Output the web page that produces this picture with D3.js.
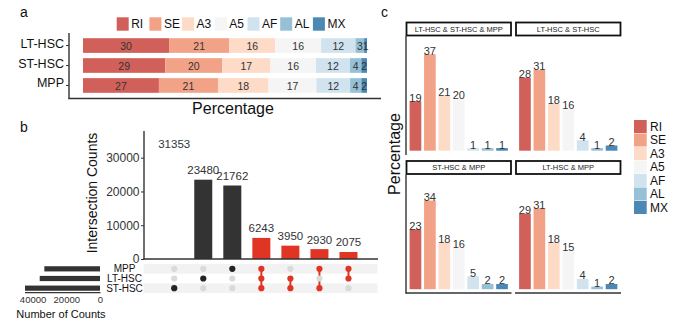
<!DOCTYPE html>
<html lang="en">
<head>
    <meta charset="UTF-8">
    <title>Repeat classes and peak overlaps</title>
    <script src="https://d3js.org/d3.v7.min.js"></script>
    <style>
        body { margin: 0; background: #fff; }
        svg { display: block; font-family: "Liberation Sans", Arial, sans-serif; }
        .domain { display: none; }
    </style>
</head>
<body>
    <svg id="chart" width="687" height="330"></svg>

    <script>
        // ---- data ----
        // panel a: repeat class percentages per cell type
        const cellTypes = ["LT-HSC", "ST-HSC", "MPP"];
        const repeatClasses = ["RI", "SE", "A3", "A5", "AF", "AL", "MX"];
        const pctLT = [30, 21, 16, 16, 12, 3, 1];
        const pctST = [29, 20, 17, 16, 12, 4, 2];
        const pctMPP = [27, 21, 18, 17, 12, 4, 2];

        // panel b: upset intersections
        const setRows = ["MPP", "LT-HSC", "ST-HSC"];
        const intersectionCounts = [31353, 23480, 21762, 6243, 3950, 2930, 2075];
        const intersectionSets = [
            ["ST-HSC"],
            ["LT-HSC"],
            ["MPP"],
            ["MPP", "LT-HSC", "ST-HSC"],
            ["LT-HSC", "ST-HSC"],
            ["MPP", "ST-HSC"],
            ["MPP", "LT-HSC"]
        ];
        const countTicks = [0, 10000, 20000, 30000];
        const setSizeTicks = [0, 20000, 40000];

        // panel c: repeat class percentages in shared peaks
        const facetTitles = ["LT-HSC & ST-HSC & MPP", "LT-HSC & ST-HSC", "ST-HSC & MPP", "LT-HSC & MPP"];
        const pctShared3 = [19, 37, 21, 20, 1, 1, 1];
        const pctLTST = [28, 31, 18, 16, 4, 1, 2];
        const pctSTMPP = [23, 34, 18, 16, 5, 2, 2];
        const pctLTMPP = [29, 31, 18, 15, 4, 1, 2];

        // colours (RdBu-like)
        const classColors = ["#D2605A", "#F2A387", "#FDDBC7", "#F5F5F5", "#D1E3EE", "#95C0D6", "#4C88B4"];
        const color = d3.scaleOrdinal().domain(repeatClasses).range(classColors);
        const textDark = "#333";
        const axisColor = "#333";
        const multiRed = "#E03524";

        const svg = d3.select("#chart");

        // panel letters
        [["a", 20, 17], ["b", 20, 132], ["c", 381, 17]].forEach(([t, x, y]) => {
            svg.append("text").attr("x", x).attr("y", y)
                .attr("font-size", "14px").attr("fill", "#111").text(t);
        });

        // ================= panel a =================
        const aRows = cellTypes.map((c, i) => {
            const vals = [pctLT, pctST, pctMPP][i];
            const row = { cell: c };
            repeatClasses.forEach((k, j) => row[k] = vals[j]);
            return row;
        });
        const aStack = d3.stack().keys(repeatClasses).offset(d3.stackOffsetExpand)(aRows);

        const aX = d3.scaleLinear().domain([0, 1]).range([83, 367]);
        const aY = d3.scaleBand().domain(cellTypes).range([33, 98])
            .paddingInner(0.265).paddingOuter(0.26);

        const aG = svg.append("g");
        const layers = aG.selectAll("g.layer")
            .data(aStack)
            .enter().append("g")
            .attr("fill", d => color(d.key));

        layers.selectAll("rect")
            .data(d => d)
            .enter().append("rect")
            .attr("x", d => aX(d[0]))
            .attr("y", d => aY(d.data.cell))
            .attr("width", d => aX(d[1]) - aX(d[0]))
            .attr("height", aY.bandwidth());

        // numbers inside the segments
        aStack.forEach(layer => {
            aG.selectAll(null)
                .data(layer)
                .enter().append("text")
                .attr("x", d => (aX(d[0]) + aX(d[1])) / 2)
                .attr("y", d => aY(d.data.cell) + aY.bandwidth() / 2 + 1)
                .attr("dy", "0.35em")
                .attr("text-anchor", "middle")
                .attr("font-size", "10.5px")
                .attr("fill", textDark)
                .text(d => d.data[layer.key]);
        });

        // y axis
        const aAxis = aG.append("g")
            .attr("transform", "translate(69,0)")
            .call(d3.axisLeft(aY).tickSize(3).tickPadding(2));
        aAxis.selectAll("text").attr("font-size", "12.5px").attr("fill", "#111")
            .attr("y", -2).style("font-family", "inherit");
        aAxis.selectAll("line").attr("stroke", axisColor);

        aG.append("line").attr("x1", 69).attr("x2", 69).attr("y1", 33).attr("y2", 98.5)
            .attr("stroke", axisColor).attr("stroke-width", 1.4);
        aG.append("line").attr("x1", 68.3).attr("x2", 381).attr("y1", 98.5).attr("y2", 98.5)
            .attr("stroke", axisColor).attr("stroke-width", 1.4);

        aG.append("text").attr("x", 233).attr("y", 114)
            .attr("text-anchor", "middle").attr("font-size", "16px").attr("fill", "#111")
            .text("Percentage");

        // horizontal legend
        const aLegend = aG.selectAll("g.leg")
            .data(repeatClasses)
            .enter().append("g")
            .attr("transform", (d, i) => `translate(${116.7 + i * 32.7}, 17.3)`);
        aLegend.append("rect").attr("width", 12).attr("height", 13.4).attr("fill", d => color(d));
        aLegend.append("text").attr("x", 14.5).attr("y", 6.7).attr("dy", "0.35em")
            .attr("font-size", "12px").attr("fill", "#111").text(d => d);

        // ================= panel b =================
        const bG = svg.append("g");
        const cols = d3.range(intersectionCounts.length);

        const bX = d3.scaleBand().domain(cols).range([159.7, 363])
            .paddingInner(0.38).paddingOuter(0.19);
        const bY = d3.scaleLinear().domain([0, 37900]).range([259, 131]);
        const rowY = d3.scaleBand().domain(setRows).range([264, 293]);

        // set sizes from the intersections
        const setSizes = setRows.map(s => d3.sum(intersectionSets.map((set, i) => set.includes(s) ? intersectionCounts[i] : 0)));
        const sizeX = d3.scaleLinear().domain([0, d3.max(setSizes)]).range([100, 25]);

        // intersection bars (the first one is blank in the figure)
        bG.selectAll("rect.ibar")
            .data(cols)
            .enter().append("rect")
            .attr("class", "ibar")
            .attr("x", i => bX(i))
            .attr("y", i => bY(intersectionCounts[i]))
            .attr("width", bX.bandwidth())
            .attr("height", i => bY(0) - bY(intersectionCounts[i]))
            .attr("fill", i => i === 0 ? "none" : (intersectionSets[i].length > 1 ? multiRed : "#333333"));

        bG.selectAll("text.ilab")
            .data(cols)
            .enter().append("text")
            .attr("class", "ilab")
            .attr("x", i => bX(i) + bX.bandwidth() / 2)
            .attr("y", i => bY(intersectionCounts[i]) - 5.5)
            .attr("text-anchor", "middle")
            .attr("font-size", "11.5px")
            .attr("fill", textDark)
            .text(i => intersectionCounts[i]);

        const bAxis = bG.append("g")
            .attr("transform", "translate(144,0)")
            .call(d3.axisLeft(bY).tickValues(countTicks).tickFormat(d3.format("d")).tickSize(3).tickPadding(1.5));
        bAxis.selectAll("text").attr("font-size", "12px").attr("fill", textDark).style("font-family", "inherit");
        bAxis.selectAll("line").attr("stroke", axisColor);

        bG.append("line").attr("x1", 144).attr("x2", 144).attr("y1", 131).attr("y2", 259.5)
            .attr("stroke", axisColor).attr("stroke-width", 1.4);
        bG.append("line").attr("x1", 143.3).attr("x2", 378).attr("y1", 259).attr("y2", 259)
            .attr("stroke", axisColor).attr("stroke-width", 1.4);

        bG.append("text")
            .attr("transform", "translate(97,193) rotate(-90)")
            .attr("text-anchor", "middle").attr("font-size", "14px").attr("fill", "#111")
            .text("Intersection Counts");

        // matrix stripes
        bG.selectAll("rect.stripe")
            .data(setRows.filter((d, i) => i % 2 === 0))
            .enter().append("rect")
            .attr("x", 143.5).attr("width", 234)
            .attr("y", d => rowY(d)).attr("height", rowY.bandwidth())
            .attr("fill", "#F2F2F2");

        // connecting lines
        cols.forEach(i => {
            const ys = intersectionSets[i].map(s => rowY(s) + rowY.bandwidth() / 2);
            if (ys.length > 1) {
                bG.append("line")
                    .attr("x1", bX(i) + bX.bandwidth() / 2).attr("x2", bX(i) + bX.bandwidth() / 2)
                    .attr("y1", d3.min(ys)).attr("y2", d3.max(ys))
                    .attr("stroke", multiRed).attr("stroke-width", 2);
            }
        });

        // dots
        const cells = [];
        cols.forEach(i => setRows.forEach(s => cells.push({ i, s, on: intersectionSets[i].includes(s) })));
        bG.selectAll("circle.dot")
            .data(cells)
            .enter().append("circle")
            .attr("cx", d => bX(d.i) + bX.bandwidth() / 2)
            .attr("cy", d => rowY(d.s) + rowY.bandwidth() / 2)
            .attr("r", 3.1)
            .attr("fill", d => !d.on ? "#DADADA" : (intersectionSets[d.i].length > 1 ? multiRed : "#222"));

        // set labels
        bG.selectAll("text.setlab")
            .data(setRows)
            .enter().append("text")
            .attr("x", 124.5)
            .attr("y", d => rowY(d) + rowY.bandwidth() / 2)
            .attr("dy", "0.35em")
            .attr("text-anchor", "middle")
            .attr("font-size", "10px").attr("fill", "#111")
            .text(d => d);

        // set size bars
        bG.selectAll("rect.sbar")
            .data(setRows)
            .enter().append("rect")
            .attr("x", (d, i) => sizeX(setSizes[i]))
            .attr("y", d => rowY(d) + rowY.bandwidth() / 2 - 2.6)
            .attr("width", (d, i) => sizeX(0) - sizeX(setSizes[i]))
            .attr("height", 5.2)
            .attr("fill", "#333333");

        const sAxis = bG.append("g")
            .attr("transform", "translate(0,292.7)")
            .call(d3.axisBottom(sizeX).tickValues(setSizeTicks).tickFormat(d3.format("d")).tickSize(0).tickPadding(3.5));
        sAxis.selectAll("text").attr("font-size", "9.5px").attr("fill", textDark).style("font-family", "inherit");
        bG.append("line").attr("x1", sizeX(d3.max(setSizes))).attr("x2", 100.5).attr("y1", 292.7).attr("y2", 292.7)
            .attr("stroke", axisColor).attr("stroke-width", 1.3);

        bG.append("text").attr("x", 61).attr("y", 318)
            .attr("text-anchor", "middle").attr("font-size", "11px").attr("fill", "#111")
            .text("Number of Counts");

        // ================= panel c =================
        const cG = svg.append("g");
        const facetValues = [pctShared3, pctLTST, pctSTMPP, pctLTMPP];
        const panelX = [406, 515.5];
        const panelTop = [36, 174.5];
        const panelW = 105.5;
        const panelH = 118.5;

        const cX = d3.scaleBand().domain(repeatClasses).range([0, panelW])
            .paddingInner(0.19).paddingOuter(0.25);
        const cY = d3.scaleLinear().domain([0, 44]).range([panelH - 3.8, 0]);

        facetTitles.forEach((title, f) => {
            const col = f % 2, row = Math.floor(f / 2);
            const g = cG.append("g").attr("transform", `translate(${panelX[col]}, ${panelTop[row]})`);
            const vals = facetValues[f];

            // strip
            g.append("rect").attr("x", 0.5).attr("y", -13.5).attr("width", panelW - 1).attr("height", 13)
                .attr("fill", "#fff").attr("stroke", "#111").attr("stroke-width", 1.8);
            g.append("text").attr("x", panelW / 2).attr("y", -7).attr("dy", "0.35em")
                .attr("text-anchor", "middle").attr("font-size", "7.5px").attr("fill", "#1a1a1a")
                .text(title);

            g.selectAll("rect.cbar")
                .data(repeatClasses)
                .enter().append("rect")
                .attr("x", d => cX(d))
                .attr("y", (d, i) => cY(vals[i]))
                .attr("width", cX.bandwidth())
                .attr("height", (d, i) => cY(0) - cY(vals[i]))
                .attr("fill", d => color(d));

            g.selectAll("text.cval")
                .data(repeatClasses)
                .enter().append("text")
                .attr("x", d => cX(d) + cX.bandwidth() / 2)
                .attr("y", (d, i) => cY(vals[i]) + 0.5)
                .attr("text-anchor", "middle")
                .attr("font-size", "11px")
                .attr("fill", textDark)
                .text((d, i) => vals[i]);

            if (col === 0) {
                g.append("line").attr("x1", 0).attr("x2", 0).attr("y1", 0).attr("y2", panelH + 0.5)
                    .attr("stroke", axisColor).attr("stroke-width", 1.4);
            }
            if (row === 1) {
                g.append("line").attr("x1", -0.5).attr("x2", panelW).attr("y1", panelH).attr("y2", panelH)
                    .attr("stroke", axisColor).attr("stroke-width", 1.4);
            }
        });

        cG.append("text")
            .attr("transform", "translate(400,154) rotate(-90)")
            .attr("text-anchor", "middle").attr("font-size", "16px").attr("fill", "#111")
            .text("Percentage");

        // vertical legend
        const cLegend = cG.selectAll("g.cleg")
            .data(repeatClasses)
            .enter().append("g")
            .attr("transform", (d, i) => `translate(634, ${120 + i * 13.5})`);
        cLegend.append("rect").attr("width", 12.7).attr("height", 13).attr("fill", d => color(d));
        cLegend.append("text").attr("x", 16).attr("y", 6.7).attr("dy", "0.35em")
            .attr("font-size", "12px").attr("fill", "#111").text(d => d);
    </script>
</body>
</html>
